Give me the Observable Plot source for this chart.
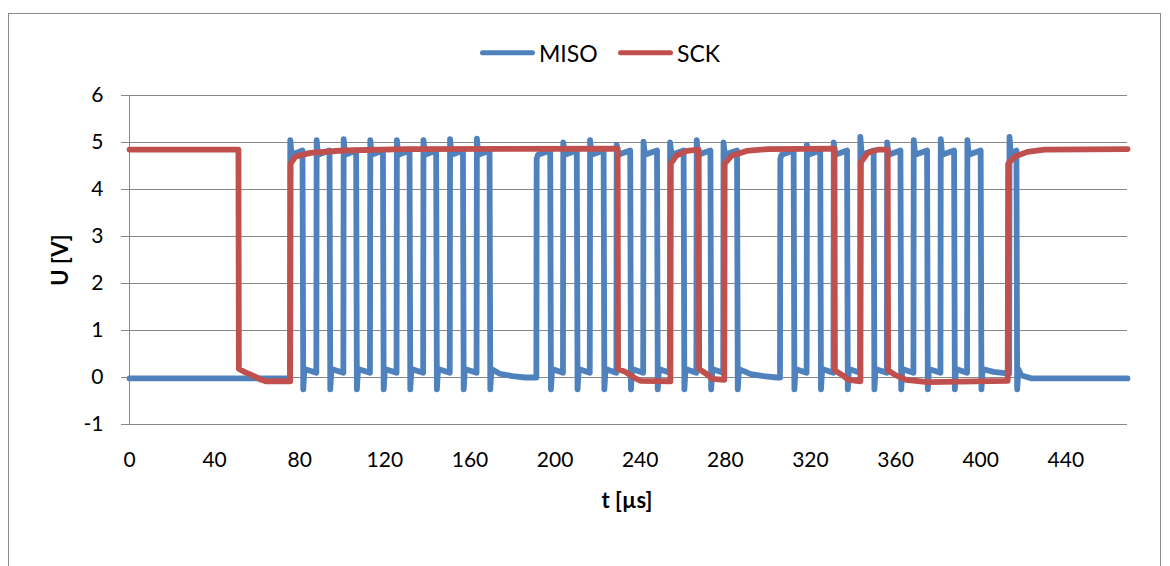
<!DOCTYPE html>
<html><head><meta charset="utf-8">
<script src="https://cdn.jsdelivr.net/npm/d3@7"></script>
<script src="https://cdn.jsdelivr.net/npm/@observablehq/plot@0.6"></script>
<style>
html,body{margin:0;padding:0;background:#fff;overflow:hidden;}
#wrap{position:relative;width:1170px;height:566px;font-family:Lato,"Open Sans",sans-serif;}
#frame{position:absolute;left:8px;top:13px;width:1153px;height:620px;border:1.5px solid #8a8a8a;box-sizing:border-box;}
#chart{position:absolute;left:0;top:0;}
</style></head>
<body>
<div id="wrap"><div id="frame"></div><div id="chart"></div></div>
<script>
// ---- data ----
const seriesNames = ["MISO", "SCK"];
const seriesColors = ["#4F81BD", "#C0504D"];
const xTicks = [0, 40, 80, 120, 160, 200, 240, 280, 320, 360, 400, 440];
const yTicks = [-1, 0, 1, 2, 3, 4, 5, 6];

// MISO: rising / falling edge times (µs) and levels
const misoRise = [75.4, 87.8, 100.5, 113.0, 125.5, 138.0, 150.5, 163.1,
                  191.2, 203.7, 216.3, 228.8, 241.4, 253.9, 266.4, 279.0,
                  305.7, 318.2, 330.8, 343.3, 355.9, 368.4, 381.1, 393.6, 413.4];
const misoFall = [81.5, 94.2, 106.7, 119.3, 131.8, 144.3, 156.9, 169.4,
                  197.9, 210.4, 223.0, 235.5, 248.1, 260.6, 273.2, 285.7,
                  312.3, 324.8, 337.4, 349.9, 362.5, 375.0, 387.7, 400.2, 417.0];
const misoPeak = [5.05, 5.05, 5.07, 5.05, 5.05, 5.05, 5.07, 5.08,
                  4.65, 5.0, 5.05, 4.95, 5.02, 5.0, 5.05, 5.0,
                  4.65, 4.95, 5.0, 5.12, 5.0, 5.05, 5.07, 5.05, 5.12];
const misoLowEnd = [-0.02, 0.1, 0.1, 0.1, 0.1, 0.1, 0.1, 0.1,
                    0.0, 0.1, 0.1, 0.1, 0.1, 0.1, 0.1, 0.1,
                    0.0, 0.1, 0.1, 0.1, 0.1, 0.1, 0.1, 0.1, 0.08];
const misoHighStart = 4.74, misoHighEnd = 4.83, misoUndershoot = -0.25, misoLowStart = 0.18;
const misoRestT = [0, 174, 180, 186, 292, 298, 304, 406, 419, 424, 469];
const misoRestV = [-0.02, 0.08, 0.03, 0.0, 0.07, 0.03, 0.0, 0.12, 0.05, -0.02, -0.02];

// SCK: corner points
const sckT = [0, 51.2, 51.4, 54, 58, 62, 64, 75.5, 75.7, 78, 85, 100, 130,
              229.4, 229.6, 233, 237, 240, 254.2, 254.4, 257, 262, 267.5,
              267.7, 271, 274, 279.5, 279.7, 283, 290, 300,
              331.3, 331.5, 335, 338, 343.5, 343.7, 347, 352, 356.3,
              356.5, 360, 365, 375, 412.7, 412.9, 416, 422, 430, 469];
const sckV = [4.85, 4.85, 0.18, 0.12, 0.04, -0.05, -0.08, -0.08, 4.55, 4.7, 4.78, 4.83, 4.86,
              4.87, 0.18, 0.12, 0.0, -0.07, -0.08, 4.55, 4.72, 4.82, 4.85,
              0.18, 0.08, -0.03, -0.05, 4.55, 4.72, 4.82, 4.86,
              4.87, 0.15, 0.05, -0.05, -0.08, 4.58, 4.78, 4.85, 4.85,
              0.15, 0.05, -0.05, -0.1, -0.07, 4.55, 4.7, 4.8, 4.85, 4.86];

// ---- build tables ----
const misoPts = misoRestT.map((t, i) => ({t, v: misoRestV[i]}));
misoRise.forEach((r, i) => {
  const f = misoFall[i];
  misoPts.push({t: r, v: misoLowEnd[i]});
  misoPts.push({t: r + 0.15, v: misoPeak[i]});
  misoPts.push({t: r + 0.8, v: misoHighStart});
  misoPts.push({t: f - 0.2, v: misoHighEnd});
  misoPts.push({t: f + 0.15, v: misoUndershoot});
  misoPts.push({t: f + 0.7, v: misoLowStart});
});
misoPts.sort((a, b) => a.t - b.t);
const sckPts = sckT.map((t, i) => ({t, v: sckV[i]}));

const gridColor = "#878787";
const fmt = d => String(d);
const lw = 5.8;

const chart = Plot.plot({
  width: 1170, height: 566,
  marginLeft: 129, marginRight: 43, marginTop: 95, marginBottom: 142,
  x: {domain: [0, 469]},
  y: {domain: [-1, 6]},
  style: {fontFamily: "Lato, 'Open Sans', sans-serif", fontSize: "21px", color: "#000", background: "transparent", overflow: "visible"},
  marks: [
    Plot.ruleY(yTicks, {stroke: gridColor, strokeWidth: 1}),
    Plot.ruleX([0], {stroke: gridColor, strokeWidth: 1}),
    Plot.axisY({ticks: yTicks, tickSize: 8, tickPadding: 18, tickFormat: fmt, stroke: gridColor, fill: "#000", label: null}),
    Plot.axisX({ticks: xTicks, tickSize: 0, tickPadding: 28, tickFormat: fmt, fill: "#000", label: null}),
    Plot.line(misoPts, {x: "t", y: "v", stroke: seriesColors[0], strokeWidth: lw, strokeLinejoin: "round", strokeLinecap: "round"}),
    Plot.line(sckPts, {x: "t", y: "v", stroke: seriesColors[1], strokeWidth: lw, strokeLinejoin: "round", strokeLinecap: "round"})
  ]
});
document.getElementById("chart").appendChild(chart);

// titles and legend as real text
const svg = d3.select(chart);
svg.append("text").attr("transform", "translate(60,260) rotate(-90)")
  .attr("text-anchor", "middle").attr("dy", "0.36em")
  .style("font", "bold 22px Lato, sans-serif").attr("fill", "#000").text("U [V]");
svg.append("text").attr("x", 627).attr("y", 508)
  .attr("text-anchor", "middle")
  .style("font", "bold 22px Lato, sans-serif").attr("fill", "#000").text("t [µs]");
const legendItems = [{x1: 482.5, x2: 532.5, tx: 539}, {x1: 620.5, x2: 670.5, tx: 677}];
legendItems.forEach((it, i) => {
  svg.append("line").attr("x1", it.x1).attr("x2", it.x2).attr("y1", 52.7).attr("y2", 52.7)
    .attr("stroke", seriesColors[i]).attr("stroke-width", 5).attr("stroke-linecap", "round");
  svg.append("text").attr("x", it.tx).attr("y", 61.5).attr("text-anchor", "start")
    .style("font", "23px Lato, sans-serif").attr("fill", "#000").text(seriesNames[i]);
});
</script>
</body></html>
